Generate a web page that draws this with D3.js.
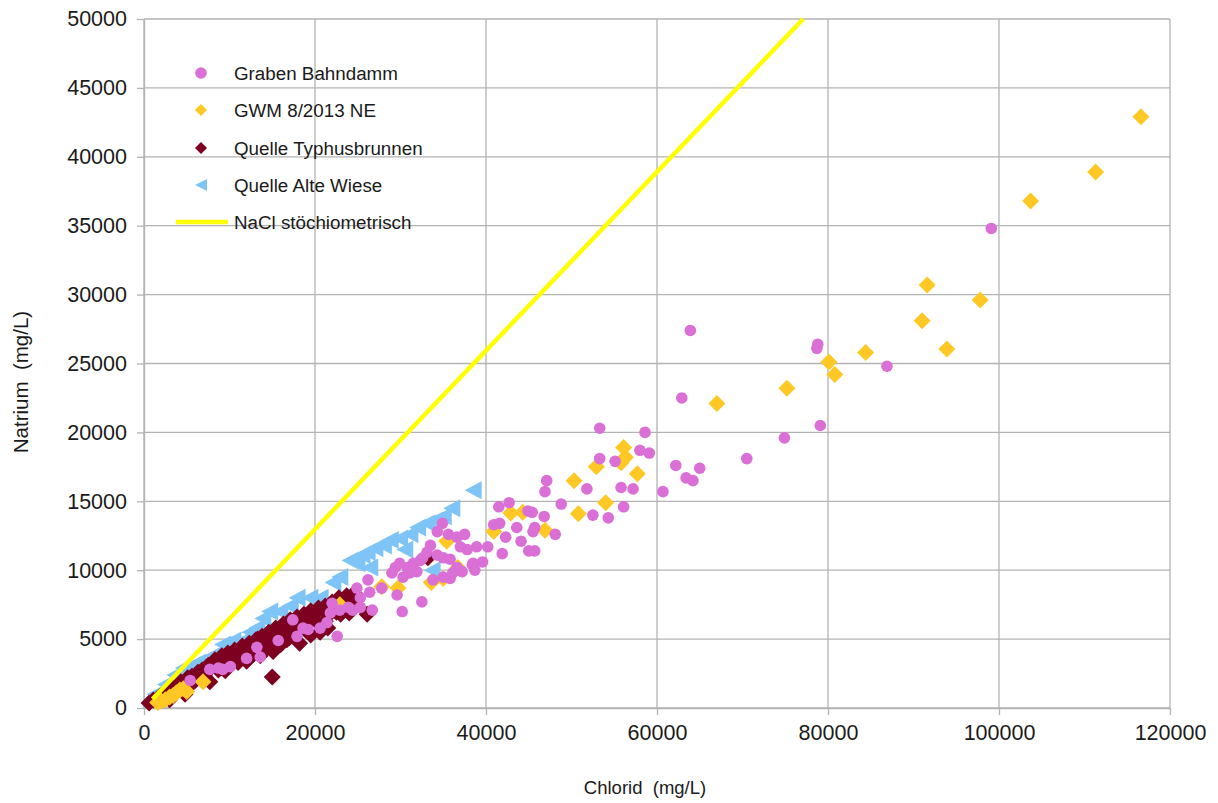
<!DOCTYPE html>
<html>
<head>
<meta charset="utf-8">
<script src="https://cdn.jsdelivr.net/npm/d3@7"></script>
<style>
  html, body { margin: 0; padding: 0; background: #ffffff; }
  svg text { font-family: "Liberation Sans", Arial, sans-serif; fill: #1a1a1a; white-space: pre; }
</style>
</head>
<body>
<svg id="chart" width="1218" height="803"></svg>
<script>
// ---------- data (Chlorid mg/L, Natrium mg/L) ----------
const xTicks = [0, 20000, 40000, 60000, 80000, 100000, 120000];
const yTicks = [0, 5000, 10000, 15000, 20000, 25000, 30000, 35000, 40000, 45000, 50000];

const seriesNames = ["Graben Bahndamm", "GWM 8/2013 NE", "Quelle Typhusbrunnen", "Quelle Alte Wiese", "NaCl stöchiometrisch"];

const grabenCl = [99100, 63900, 78700, 78800, 86900, 62900, 79100, 74900, 70500, 62200, 65000, 63400, 64200, 60700,
  58600, 58000, 59100, 53300, 55100, 53300, 55800, 57200,
  47100, 46900, 51800, 48800, 42700, 41500, 44900, 45400, 46800, 52500, 54300, 56100, 40900, 41600, 43600, 45700, 45500,
  48100, 42300, 44100, 38900, 40200, 45000, 45700, 41900, 38500, 39600,
  34900, 34300, 35600, 36600, 37500, 33500, 33100, 37000, 37800, 34300, 35000, 35800, 32600, 32300, 31500, 30800, 29900,
  29400, 29000, 31100, 30300, 31900, 36600, 36100, 37200, 38400, 35000, 35800, 33800, 38700, 26200, 24900, 26400, 29600,
  32500, 30200, 25300, 27800, 26700,
  25300, 24400, 23900, 22900, 22000, 21800, 21400, 20600, 22600, 19200, 18600, 17400, 17900, 15700, 13600, 13200, 12000,
  10100, 9200, 8700, 7700, 5400];
const grabenNa = [34800, 27400, 26100, 26400, 24800, 22500, 20500, 19600, 18100, 17600, 17400, 16700, 16500, 15700,
  20000, 18700, 18500, 20300, 17900, 18100, 16000, 15900,
  16500, 15700, 15900, 14800, 14900, 14600, 14300, 14200, 13900, 14000, 13800, 14600, 13300, 13400, 13100, 13100, 12800,
  12600, 12400, 12100, 11700, 11700, 11400, 11400, 11200, 10500, 10600,
  13400, 12800, 12600, 12400, 12600, 11800, 11300, 11700, 11500, 11100, 10900, 10800, 10900, 10700, 10500, 10200, 10500,
  10200, 9800, 9800, 9500, 9900, 10200, 9800, 9900, 10400, 9500, 9400, 9300, 10000, 9300, 8700, 8400, 8200,
  7700, 7000, 7300, 8700, 7100,
  8000, 7100, 7300, 7100, 7600, 6900, 6200, 5800, 5200, 5700, 5800, 6400, 5200, 4900, 3700, 4400, 3600,
  3000, 2800, 2900, 2800, 2000];

const gwmCl = [116600, 111300, 103700, 91600, 97800, 91000, 93900, 84400, 80100, 80800, 75200, 67000,
  56100, 56300, 55800, 57700, 52900, 50300, 54000, 50800, 46900, 44300, 42900, 40900,
  35400, 36700, 33600, 35000, 27800, 29700, 22900,
  6900, 4200, 3400, 2500, 1600, 2000, 3000, 3800, 4600, 5000];
const gwmNa = [42900, 38900, 36800, 30700, 29600, 28100, 26050, 25800, 25100, 24200, 23200, 22100,
  18900, 18200, 17800, 17000, 17500, 16500, 14900, 14100, 12900, 14200, 14150, 12800,
  12100, 10200, 9100, 9400, 8800, 8700, 7500,
  1900, 1300, 900, 600, 400, 500, 800, 1100, 1400, 1200];

const typhusCl = [600, 1100, 1500, 1900, 2300, 2700, 3000, 3500, 4000, 4300, 4800, 5100, 5600, 6000, 6300, 6800, 7100,
  7500, 8000, 8300, 8700, 9100, 9500, 9800, 10300, 10600, 11000, 11500, 11900, 12300, 12600, 13100, 13500, 13800, 14300,
  14600, 15100, 15400, 15900, 16300, 16700, 17100, 17500, 17900, 18200, 18700, 19200, 19500, 20000, 20400, 20800, 21200,
  21600, 22000, 22500, 22800, 23300, 23700, 24200, 24600, 18200, 20600, 15000, 26100, 33200, 11200, 13600, 3000, 4800, 7700,
  3200, 5300, 6500, 8500, 10000, 11700, 13300, 14000, 15600, 16500, 17700, 18900, 19800, 21000, 22200, 23500, 24400,
  16000, 17000, 19000, 21200, 23000, 12800, 11000, 9000, 7000, 15100, 19500, 21500, 12000, 9500, 5000, 24000];
const typhusNa = [360, 580, 650, 870, 800, 1090, 1300, 1450, 1600, 1900, 1800, 2200, 2300, 2000, 2600, 2750, 2300,
  3100, 3000, 3500, 2750, 3800, 3350, 4000, 3600, 4200, 3850, 4500, 4050, 4700, 4200, 4950, 4550, 5200, 4350,
  5500, 4950, 5800, 5200, 6100, 4950, 6400, 5650, 6600, 5950, 6800, 6250, 7050, 6400, 7250, 5950, 7400,
  6750, 7700, 6950, 8000, 7550, 8150, 7850, 8350, 4700, 5500, 2250, 6800, 10900, 3500, 3800, 600, 1000, 1900,
  1150, 2050, 2400, 3200, 3800, 4300, 5000, 4700, 5500, 5600, 6200, 6500, 6900, 7000, 7300, 7900, 7500,
  4600, 5100, 5600, 6300, 6800, 3900, 3300, 2900, 2000, 4100, 5300, 5800, 3400, 2700, 1400, 6900];

const wieseCl = [38500, 36000, 35000, 34000, 33100, 32000, 31100, 29900, 28800, 28000, 27000, 26100, 25500, 24100,
  24900, 26400, 22900, 22100, 20600, 19400, 17900, 17100, 15900, 14700, 13900, 13200, 11600, 10400, 9200, 6300, 5700,
  4600, 33700, 30500, 3600, 2500, 1300, 8000, 12400];
const wieseNa = [15800, 14500, 13900, 13600, 13400, 13100, 12600, 12300, 12200, 11800, 11600, 11300, 11100, 10700,
  10500, 10200, 9500, 9100, 8000, 8000, 8000, 7400, 7000, 7000, 6500, 5800, 4900, 4900, 4600, 3300, 3100,
  2900, 10000, 11500, 2400, 1700, 1000, 3800, 5500];

// stoichiometric NaCl line: Na = (22.99 / 35.45) * Cl
const naclCl = [1000, 77100];
const naclRatio = 22.99 / 35.45;

// ---------- layout ----------
const svg = d3.select("#chart");
const mLeft = 144, mRight = 1170, mTop = 19, mBottom = 708;

const x = d3.scaleLinear().domain([0, 120000]).range([mLeft, mRight]);
const y = d3.scaleLinear().domain([0, 50000]).range([mBottom, mTop]);

const gridColor = "#b3b3b3";

// grid
svg.append("g").selectAll("line").data(xTicks).join("line")
  .attr("x1", d => x(d)).attr("x2", d => x(d))
  .attr("y1", mTop).attr("y2", mBottom)
  .attr("stroke", gridColor).attr("stroke-width", 1.3);
svg.append("g").selectAll("line").data(yTicks).join("line")
  .attr("x1", mLeft).attr("x2", mRight)
  .attr("y1", d => y(d)).attr("y2", d => y(d))
  .attr("stroke", gridColor).attr("stroke-width", 1.3);

// axes
const xAxis = d3.axisBottom(x).tickValues(xTicks).tickFormat(d3.format("d")).tickSizeOuter(0).tickSizeInner(7).tickPadding(10);
const yAxis = d3.axisLeft(y).tickValues(yTicks).tickFormat(d3.format("d")).tickSizeOuter(0).tickSizeInner(7).tickPadding(10);

const gx = svg.append("g").attr("transform", `translate(0,${mBottom})`).call(xAxis);
const gy = svg.append("g").attr("transform", `translate(${mLeft},0)`).call(yAxis);
[gx, gy].forEach(g => {
  g.select(".domain").attr("stroke", gridColor).attr("stroke-width", 1.3);
  g.selectAll(".tick line").attr("stroke", gridColor).attr("stroke-width", 1.3);
  g.selectAll(".tick text").attr("font-family", "Liberation Sans, Arial, sans-serif")
    .attr("font-size", 21.5).attr("fill", "#1a1a1a");
});

// axis titles
svg.append("text").attr("x", 645).attr("y", 794).attr("text-anchor", "middle")
  .attr("font-size", 18.5).text("Chlorid  (mg/L)");
svg.append("text").attr("transform", "translate(28,382) rotate(-90)").attr("text-anchor", "middle")
  .attr("font-size", 20.5).text("Natrium  (mg/L)");

// marker shapes
const diamondPath = h => `M0,${-h}L${h},0L0,${h}L${-h},0Z`;
const triLeftPath = (w, h) => `M${-w / 2},0L${w / 2},${-h / 2}L${w / 2},${h / 2}Z`;

const colors = {
  graben: "#da6fd5",
  gwm: "#ffc825",
  typhus: "#7d0021",
  wiese: "#7fc4f6",
  nacl: "#ffff00"
};

const zip = (a, b) => a.map((v, i) => [v, b[i]]);

// plot order: Alte Wiese (bottom), Typhusbrunnen, GWM, Graben (top)
svg.append("g").selectAll("path").data(zip(wieseCl, wieseNa)).join("path")
  .attr("d", triLeftPath(17, 18))
  .attr("transform", d => `translate(${x(d[0])},${y(d[1])})`)
  .attr("fill", colors.wiese);

svg.append("g").selectAll("path").data(zip(typhusCl, typhusNa)).join("path")
  .attr("d", diamondPath(8.5))
  .attr("transform", d => `translate(${x(d[0])},${y(d[1])})`)
  .attr("fill", colors.typhus);

svg.append("g").selectAll("path").data(zip(gwmCl, gwmNa)).join("path")
  .attr("d", diamondPath(8.5))
  .attr("transform", d => `translate(${x(d[0])},${y(d[1])})`)
  .attr("fill", colors.gwm);

svg.append("g").selectAll("circle").data(zip(grabenCl, grabenNa)).join("circle")
  .attr("cx", d => x(d[0])).attr("cy", d => y(d[1])).attr("r", 5.8)
  .attr("fill", colors.graben);

// NaCl line
const line = d3.line().x(d => x(d)).y(d => y(d * naclRatio));
svg.append("path").datum(naclCl).attr("d", line)
  .attr("fill", "none").attr("stroke", colors.nacl).attr("stroke-width", 4.5);

// legend
const legY = [73, 110, 148, 185, 222];
const leg = svg.append("g");
leg.append("circle").attr("cx", 201).attr("cy", legY[0]).attr("r", 5.8).attr("fill", colors.graben);
leg.append("path").attr("d", diamondPath(6)).attr("transform", `translate(201,${legY[1]})`).attr("fill", colors.gwm);
leg.append("path").attr("d", diamondPath(6)).attr("transform", `translate(201,${legY[2]})`).attr("fill", colors.typhus);
leg.append("path").attr("d", triLeftPath(12, 12)).attr("transform", `translate(201,${legY[3]})`).attr("fill", colors.wiese);
leg.append("line").attr("x1", 176).attr("x2", 228).attr("y1", legY[4]).attr("y2", legY[4])
  .attr("stroke", colors.nacl).attr("stroke-width", 4.5);
leg.selectAll("text").data(seriesNames).join("text")
  .attr("x", 234).attr("y", (d, i) => legY[i]).attr("dy", "0.35em")
  .attr("font-size", 18.8).text(d => d);
</script>
</body>
</html>
